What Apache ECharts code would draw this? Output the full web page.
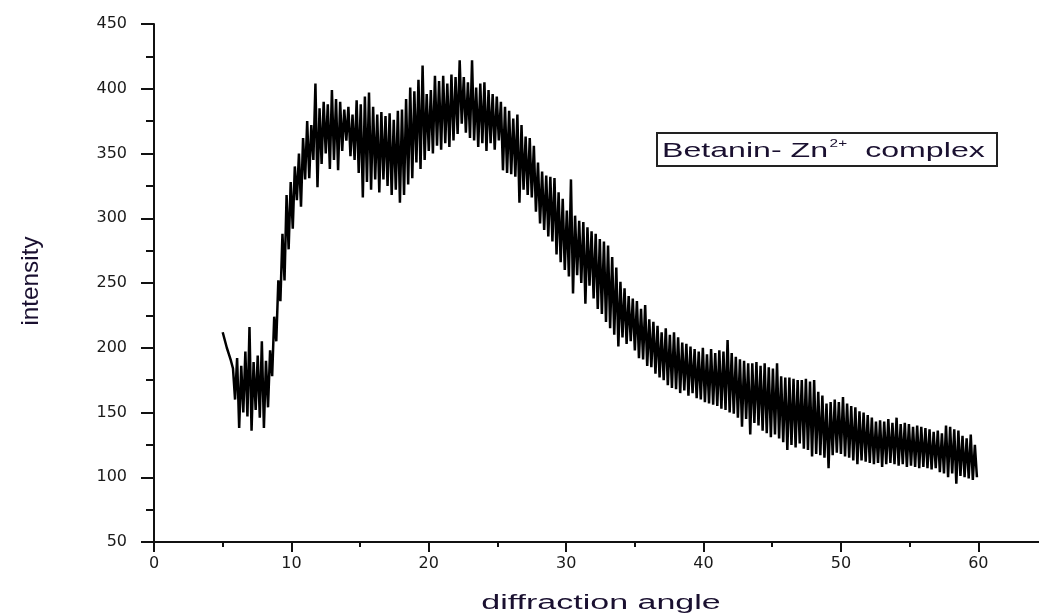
<!DOCTYPE html>
<html>
<head>
<meta charset="utf-8">
<title>Betanin-Zn2+ complex XRD</title>
<script src="https://cdn.jsdelivr.net/npm/echarts@6/dist/echarts.min.js"></script>
<style>
    html, body { margin: 0; padding: 0; background: #fff; }
    #chart { width: 1039px; height: 613px; }
</style>
</head>
<body>
<div id="chart"></div>
<script>
// scan starts at 5 deg, one reading every 0.15 deg
var angleStart = 5;
var angleStep = 0.15;

// intensity readings, 20 per row (3 deg per row)
var intensity = [
    212, 206, 200, 195, 190, 184, 160, 192, 138, 186, 150, 197, 147, 216, 136, 189, 152, 194, 146, 205,
    138, 190, 154, 198, 178, 224, 205, 252, 236, 288, 252, 318, 276, 328, 292, 340, 314, 350, 309, 362,
    330, 375, 331, 372, 345, 404, 324, 385, 342, 390, 350, 388, 338, 399, 345, 392, 337, 390, 352, 384,
    360, 386, 348, 380, 345, 391, 335, 388, 316, 394, 328, 397, 322, 386, 330, 380, 320, 382, 330, 379,
    325, 381, 318, 376, 322, 383, 312, 384, 318, 392, 326, 401, 331, 398, 343, 407, 338, 418, 345, 396,
    352, 399, 350, 410, 356, 406, 353, 410, 358, 404, 355, 411, 360, 409, 365, 422, 373, 409, 366, 405,
    362, 422, 360, 401, 355, 404, 358, 405, 352, 399, 358, 396, 353, 394, 360, 390, 337, 386, 335, 383,
    334, 377, 332, 380, 312, 372, 322, 363, 318, 362, 316, 356, 305, 343, 296, 336, 291, 333, 286, 332,
    282, 331, 272, 320, 266, 315, 260, 306, 255, 330, 242, 302, 256, 298, 250, 297, 234, 293, 248, 290,
    238, 288, 230, 284, 226, 282, 220, 279, 215, 270, 210, 262, 201, 251, 208, 246, 203, 240, 205, 238,
    198, 236, 192, 230, 191, 233, 186, 222, 185, 220, 180, 217, 177, 212, 175, 215, 171, 210, 169, 212,
    168, 208, 165, 204, 167, 203, 163, 201, 165, 199, 161, 197, 160, 200, 158, 195, 157, 199, 156, 196,
    155, 198, 153, 197, 152, 206, 150, 196, 149, 193, 146, 191, 139, 190, 145, 188, 133, 188, 142, 189,
    140, 186, 136, 188, 134, 185, 131, 184, 133, 188, 130, 178, 127, 177, 121, 177, 125, 176, 123, 175,
    126, 175, 122, 176, 121, 174, 116, 175, 118, 166, 117, 163, 115, 157, 107, 158, 117, 160, 119, 158,
    118, 162, 116, 157, 115, 155, 113, 154, 110, 151, 113, 150, 112, 148, 111, 146, 110, 143, 111, 144,
    108, 143, 110, 145, 111, 142, 110, 146, 109, 141, 110, 142, 108, 141, 109, 139, 108, 140, 107, 139,
    108, 138, 107, 137, 106, 135, 107, 136, 104, 134, 103, 140, 100, 139, 103, 137, 95, 136, 101, 132,
    100, 130, 99, 133, 98, 125, 100
];

var xTicks = [0, 10, 20, 30, 40, 50, 60];
var yTicks = [50, 100, 150, 200, 250, 300, 350, 400, 450];

var xTitle = 'diffraction angle';
var yTitle = 'intensity';
var legendText = 'Betanin- Zn{sup|2+} complex';

var points = [];
for (var i = 0; i < intensity.length; i++) {
    points.push([+(angleStart + i * angleStep).toFixed(2), intensity[i]]);
}

var chart = echarts.init(document.getElementById('chart'), null, {renderer: 'canvas'});

var axisColor = '#111';
var labelStyle = {
    color: '#1a1a1a',
    fontFamily: 'DejaVu Sans',
    fontSize: 16
};

var option = {
    animation: false,
    backgroundColor: '#fff',
    grid: {
        left: 154,
        right: -8,
        top: 24,
        bottom: 71,
        outerBoundsMode: 'none'
    },
    xAxis: {
        type: 'value',
        min: xTicks[0],
        max: 65,
        interval: 10,
        axisLine: {show: true, onZero: false, lineStyle: {color: axisColor, width: 2}},
        axisTick: {show: true, length: 10, lineStyle: {color: axisColor, width: 2}},
        minorTick: {show: true, splitNumber: 2, length: 5, lineStyle: {color: axisColor, width: 2}},
        splitLine: {show: false},
        axisLabel: Object.assign({margin: 14, showMaxLabel: false}, labelStyle)
    },
    yAxis: {
        type: 'value',
        min: yTicks[0],
        max: yTicks[yTicks.length - 1],
        interval: 50,
        axisLine: {show: true, onZero: false, lineStyle: {color: axisColor, width: 2}},
        axisTick: {show: true, length: 13, lineStyle: {color: axisColor, width: 2}},
        minorTick: {show: true, splitNumber: 2, length: 8, lineStyle: {color: axisColor, width: 2}},
        splitLine: {show: false},
        axisLabel: Object.assign({margin: 27}, labelStyle)
    },
    graphic: [
        {
            type: 'text',
            x: 601,
            y: 603,
            scaleX: 1.7,
            style: {
                text: xTitle,
                x: 0, y: 0,
                align: 'center',
                verticalAlign: 'middle',
                fontFamily: 'Liberation Sans',
                fontSize: 20,
                fill: '#1a1030'
            }
        },
        {
            type: 'text',
            x: 32,
            y: 281,
            rotation: Math.PI / 2,
            scaleX: 1.35,
            scaleY: 1.3,
            style: {
                text: yTitle,
                x: 0, y: 0,
                align: 'center',
                verticalAlign: 'middle',
                fontFamily: 'Liberation Sans',
                fontSize: 18,
                fill: '#1a1030'
            }
        },
        {
            type: 'rect',
            shape: {x: 657, y: 133, width: 340, height: 33},
            style: {fill: '#fff', stroke: '#222', lineWidth: 2},
            z: 100
        },
        {
            type: 'text',
            x: 662,
            y: 151,
            scaleX: 1.53,
            z: 101,
            style: {
                text: legendText,
                x: 0, y: 0,
                align: 'left',
                verticalAlign: 'middle',
                fontFamily: 'Liberation Sans',
                fontSize: 21,
                fill: '#1a1030',
                rich: {
                    sup: {
                        fontFamily: 'Liberation Sans',
                        fontSize: 10,
                        fill: '#1a1030',
                        padding: [0, 6, 14, 1]
                    }
                }
            }
        }
    ],
    series: [
        {
            name: 'Betanin- Zn2+ complex',
            type: 'line',
            data: points,
            showSymbol: false,
            symbol: 'none',
            sampling: null,
            lineStyle: {color: '#000', width: 2.5},
            itemStyle: {color: '#000'}
        }
    ]
};

chart.setOption(option);
</script>
</body>
</html>
